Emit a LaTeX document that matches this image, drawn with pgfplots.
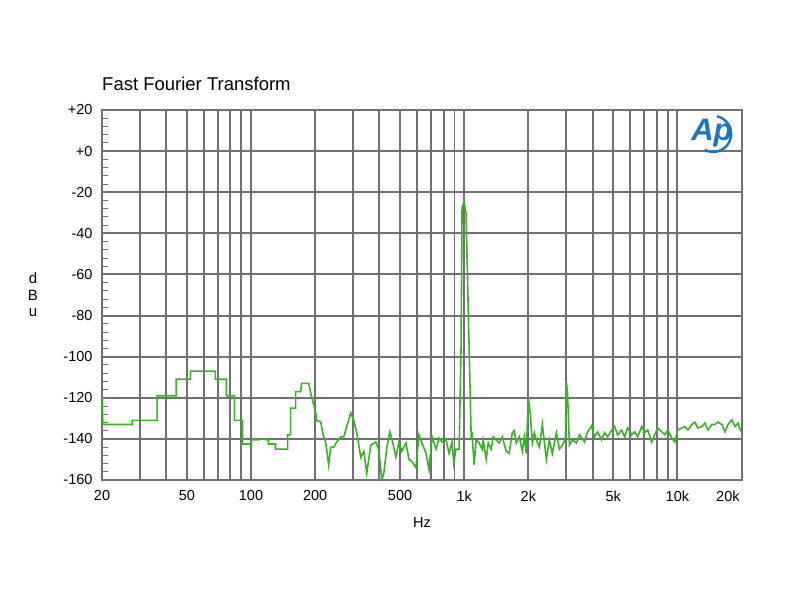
\documentclass[border=0pt]{standalone}
\usepackage{pgfplots}
\pgfplotsset{compat=1.18}
\usepackage{fontspec}
\setmainfont{Liberation Sans}
\definecolor{gridgray}{RGB}{112,112,112}
\definecolor{fftgreen}{RGB}{58,178,40}
\definecolor{apblue}{RGB}{28,117,184}
\begin{document}
\begin{tikzpicture}
\begin{axis}[
  scale only axis,
  width=640pt, height=370pt,
  xmode=log,
  xmin=20, xmax=20090,
  ymin=-160, ymax=20,
  xtick={20,50,100,200,500,1000,2000,5000,10000,20000},
  xticklabels={20,50,100,200,500,1k,2k,5k,10k,\makebox[0pt][r]{20k\hspace{2pt}}},
  minor xtick={30,40,60,70,80,90,300,400,600,700,800,900,3000,4000,6000,7000,8000,9000},
  ytick={-160,-140,-120,-100,-80,-60,-40,-20,0,20},
  yticklabels={-160,-140,-120,-100,-80,-60,-40,-20,+0,+20},
  minor y tick num=4,
  xmajorgrids, xminorgrids, ymajorgrids,
  major grid style={gridgray, line width=1.9pt},
  minor grid style={gridgray, line width=1.9pt},
  axis line style={gridgray, line width=1.9pt},
  xtick style={draw=none},
  ytick style={gridgray, line width=1pt},
  ytick pos=left,
  tick align=inside,
  major tick length=0pt,
  minor tick length=6.5pt,
  /pgf/number format/assume math mode=true,
  tick label style={font=\fontsize{14.5}{16}\selectfont},
  xticklabel style={yshift=-7pt},
  yticklabel style={xshift=-6pt},
  xlabel={Hz},
  xlabel style={font=\fontsize{14.5}{16}\selectfont, yshift=-9pt},
  clip=true,
]
\addplot[fftgreen, line width=1.6pt] coordinates {
(20,-120) (20.2,-133) (27.7,-133) (27.7,-131) (36.3,-131) (36.3,-119)
(44.6,-119) (44.6,-111) (51.9,-111) (51.9,-107) (68,-107) (68,-111)
(76.7,-111) (76.7,-119) (83.6,-119) (83.6,-131) (91.2,-131) (91.2,-142.5)
(100.5,-142.5) (100.5,-140.5) (108,-140.5) (112,-140) (120.8,-140.5) (120.8,-142.5)
(130.2,-142.5) (130.2,-145) (148.4,-145) (148.4,-138) (153.3,-138) (153.3,-125)
(161.8,-125) (161.8,-117) (170.9,-117) (172.7,-113) (186.4,-113) (190,-117)
(192.4,-119.6) (200.9,-127) (203.1,-131) (212.1,-131.8) (219.1,-139) (223.9,-141.5)
(231.3,-152.7) (236.4,-144) (244.2,-144) (252.2,-141.5) (263.4,-139) (272.2,-139)
(281.1,-134) (293.6,-127.4) (303.3,-131) (313.3,-137) (327.2,-149) (338,-146)
(349.1,-156.6) (364.6,-143) (384.8,-141.5) (397.6,-145.4) (410.8,-160) (419.8,-156.6)
(433.6,-144) (448,-136.6) (462.8,-142) (478.1,-148.8) (493.9,-141.5) (510.2,-146)
(532.8,-142) (550.4,-150) (568.6,-151) (593.8,-154) (613.4,-138) (633.7,-142)
(661.7,-147) (683.6,-155) (706.2,-139) (737.5,-145) (761.8,-139.6) (787,-141.5)
(821.8,-140.5) (849,-147) (877,-141.5) (893,-151.7) (915,-145) (946,-145)
(966.7,-95) (977,-27) (998.6,-25.2) (1020,-30) (1032,-54) (1078,-139)
(1089,-138) (1113,-152.7) (1137,-140.5) (1175,-142) (1214,-145) (1227,-140.5)
(1268,-150) (1296,-142) (1338,-145) (1368,-139) (1413,-140.5) (1459,-142)
(1508,-139) (1574,-146) (1626,-147) (1680,-137) (1717,-136) (1754,-142)
(1813,-139) (1873,-146) (1913,-139) (1955,-147) (1998,-120) (2042,-128)
(2087,-142) (2133,-137) (2180,-140.5) (2252,-144) (2326,-133) (2428,-150)
(2508,-140.5) (2591,-147) (2706,-137) (2796,-145) (2888,-143) (2983,-140)
(3016,-112.5) (3049,-117) (3116,-143) (3219,-140.5) (3361,-142) (3473,-138)
(3666,-141.5) (3787,-136.6) (3955,-133.7) (4086,-139) (4221,-136.6) (4409,-140.5)
(4554,-137) (4705,-139) (4913,-135.7) (5075,-134) (5243,-138) (5475,-135.7)
(5656,-139) (5843,-134.7) (6101,-138) (6303,-136.6) (6511,-139) (6799,-134)
(7024,-137) (7256,-135.7) (7577,-141.5) (7827,-138) (8085,-134.7) (8443,-136.6)
(8722,-138) (9011,-135.7) (9410,-139.6) (9721,-141.5) (10042,-135.7) (10486,-134.7)
(10834,-134) (11192,-135.7) (11687,-133) (12073,-131.8) (12472,-134.7) (13024,-134)
(13454,-132.3) (13899,-135.7) (14514,-133) (14994,-133) (15490,-131.8) (16175,-133)
(16710,-136.6) (17262,-133) (18027,-130.8) (18623,-134) (19238,-132.3) (19874,-136.6)
};
\coordinate (sw) at (rel axis cs:0,0);
\coordinate (ne) at (rel axis cs:1,1);
\coordinate (nw) at (rel axis cs:0,1);
\node[apblue, inner sep=0pt] (ap) at (rel axis cs:0.953,0.937) {\fontsize{31}{31}\selectfont\bfseries\itshape Ap};
\end{axis}
\draw[apblue, line width=2.4pt] ([xshift=5pt, yshift=17pt]ap.center) arc[start angle=78, end angle=-118, radius=18pt];
\node[anchor=base west, inner sep=0pt, font=\fontsize{18.5}{20}\selectfont] at ([yshift=19pt]nw) {Fast Fourier Transform};
\node[align=center, inner sep=0pt, font=\fontsize{15}{16.5}\selectfont] at ([xshift=-69pt, yshift=-185pt]nw) {d\\B\\u};
\path ([xshift=-102pt, yshift=-120pt]sw) rectangle ([xshift=58pt, yshift=110pt]ne);
\end{tikzpicture}
\end{document}
